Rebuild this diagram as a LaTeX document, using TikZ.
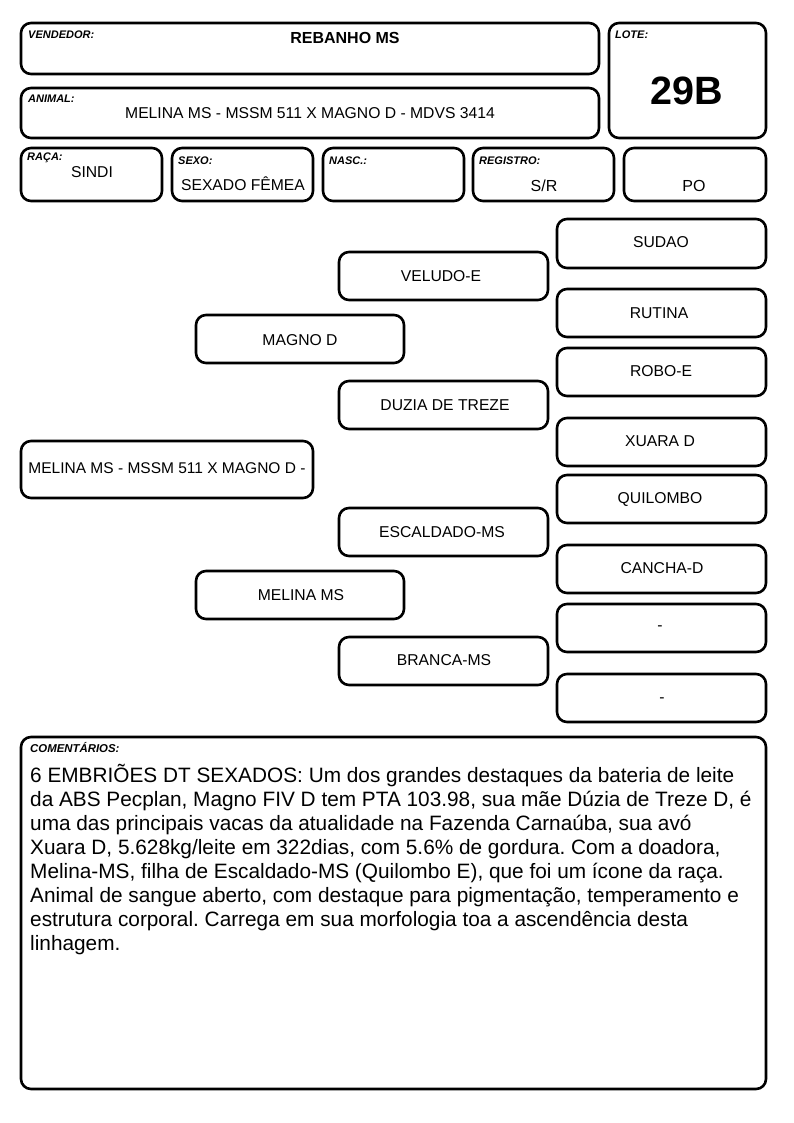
\documentclass[tikz,border=0pt]{standalone}
\usepackage{fontspec}
\setmainfont{Liberation Sans}
\frenchspacing
\begin{document}
\begin{tikzpicture}[x=1pt,y=-1pt,
  box/.style={draw=black,line width=2.6pt,rounded corners=10pt},
  lbl/.style={anchor=west,inner sep=0pt,font=\fontsize{11}{13}\selectfont\bfseries\itshape},
  val/.style={inner sep=0pt,font=\fontsize{16}{19}\selectfont},
  ped/.style={inner sep=0pt,font=\fontsize{15.7}{19}\selectfont}]
\useasboundingbox[fill=white] (0,0) rectangle (794,1123);
% header boxes
\draw[box] (21,23) rectangle (599,74);
\draw[box] (609,23) rectangle (766,138);
\draw[box] (21,88) rectangle (599,138);
\draw[box] (21,148) rectangle (162,201);
\draw[box] (172,148) rectangle (313,201);
\draw[box] (323,148) rectangle (464,201);
\draw[box] (473,148) rectangle (614,201);
\draw[box] (624,148) rectangle (766,201);
\node[lbl] (lvend) at (28,35) {VENDEDOR:};
\node[val,font=\fontsize{16}{19}\selectfont\bfseries] (vend) at (345,38) {REBANHO MS};
\node[lbl] (llote) at (615,35) {LOTE:};
\node[inner sep=0pt,font=\fontsize{39.5}{44}\selectfont\bfseries] (lote) at (687,91) {29B};
\node[lbl] (lanim) at (28,99) {ANIMAL:};
\node[ped] (anim) at (310,113) {MELINA MS - MSSM 511 X MAGNO D - MDVS 3414};
\node[lbl] (lraca) at (27,158) {RAÇA:};
\node[ped] (raca) at (92,172) {SINDI};
\node[lbl] (lsexo) at (178,161) {SEXO:};
\node[ped] (sexo) at (243,184) {SEXADO FÊMEA};
\node[lbl] (lnasc) at (329,161) {NASC.:};
\node[lbl] (lreg) at (479,161) {REGISTRO:};
\node[val] (reg) at (544,186) {S/R};
\node[val] (po) at (694,186) {PO};
% pedigree
\draw[box] (557,219) rectangle (766,268);
\draw[box] (339,252) rectangle (548,300);
\draw[box] (557,289) rectangle (766,337);
\draw[box] (196,315) rectangle (404,363);
\draw[box] (557,348) rectangle (766,396);
\draw[box] (339,381) rectangle (548,429);
\draw[box] (557,418) rectangle (766,466);
\draw[box] (21,441) rectangle (313,498);
\draw[box] (557,475) rectangle (766,523);
\draw[box] (339,508) rectangle (548,556);
\draw[box] (557,545) rectangle (766,593);
\draw[box] (196,571) rectangle (404,619);
\draw[box] (557,604) rectangle (766,652);
\draw[box] (339,637) rectangle (548,685);
\draw[box] (557,674) rectangle (766,722);
\node[ped] (sudao) at (661,242) {SUDAO};
\node[ped] (veludo) at (441,276) {VELUDO-E};
\node[ped] (rutina) at (659,313) {RUTINA};
\node[ped] (magno) at (300,340) {MAGNO D};
\node[ped] (robo) at (661,371) {ROBO-E};
\node[ped] (duzia) at (445,405) {DUZIA DE TREZE};
\node[ped] (xuara) at (660,441) {XUARA D};
\node[ped,font=\fontsize{15.5}{19}\selectfont] (melina) at (167,468) {MELINA MS - MSSM 511 X MAGNO D -};
\node[ped] (quilombo) at (660,499) {QUILOMBO};
\node[ped] (escaldado) at (442,532) {ESCALDADO-MS};
\node[ped] (cancha) at (662,568) {CANCHA-D};
\node[ped] (melinams) at (301,595) {MELINA MS};
\node[ped] (dash1) at (660,628) {-};
\node[ped] (branca) at (444,660) {BRANCA-MS};
\node[ped] (dash2) at (662,700) {-};
% comments
\draw[box] (21,737) rectangle (766,1089);
\node[lbl,font=\fontsize{11.4}{13}\selectfont\bfseries\itshape] (lcom) at (30,748) {COMENTÁRIOS:};
\node[anchor=north west,inner sep=0pt,align=left,font=\fontsize{20.8}{24}\selectfont] (com) at (30,764) {6 EMBRIÕES DT SEXADOS: Um dos grandes destaques da bateria de leite\\
da ABS Pecplan, Magno FIV D tem PTA 103.98, sua mãe Dúzia de Treze D, é\\
uma das principais vacas da atualidade na Fazenda Carnaúba, sua avó\\
Xuara D, 5.628kg/leite em 322dias, com 5.6\% de gordura. Com a doadora,\\
Melina-MS, filha de Escaldado-MS (Quilombo E), que foi um ícone da raça.\\
Animal de sangue aberto, com destaque para pigmentação, temperamento e\\
estrutura corporal. Carrega em sua morfologia toa a ascendência desta\\
linhagem.};
\end{tikzpicture}
\end{document}
